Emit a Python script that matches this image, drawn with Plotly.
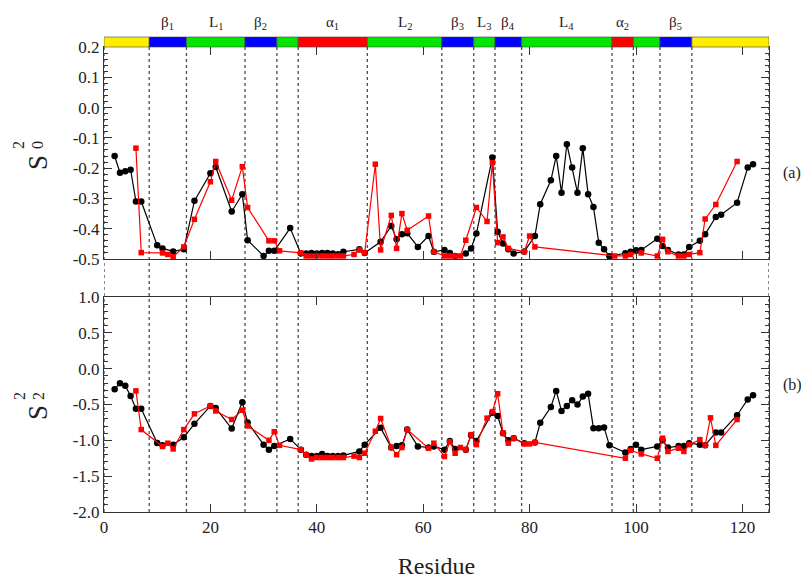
import plotly.graph_objects as go

# ---------------- data ----------------
blk_res = [2,3,4,5,6,7,10,11,13,15,17,20,21,24,26,27,30,31,32,35,37,38,39,40,41,42,43,44,45,48,49,
           52,54,55,56,57,59,61,62,64,65,66,68,69,70,73,74,75,76,77,79,81,82,84,85,86,87,88,89,90,91,
           92,93,94,95,98,99,100,101,104,105,106,108,109,110,112,113,115,116,119,121,122]
blk_s0 = [-0.16,-0.215,-0.21,-0.205,-0.31,-0.31,-0.455,-0.465,-0.475,-0.468,-0.308,-0.217,-0.196,-0.343,-0.286,-0.438,
          -0.49,-0.473,-0.473,-0.398,-0.482,-0.482,-0.48,-0.482,-0.48,-0.48,-0.482,-0.484,-0.476,-0.468,-0.48,
          -0.443,-0.391,-0.435,-0.418,-0.415,-0.46,-0.424,-0.476,-0.47,-0.48,-0.49,-0.482,-0.465,-0.416,-0.165,-0.41,
          -0.449,-0.468,-0.482,-0.475,-0.424,-0.319,-0.24,-0.16,-0.281,-0.121,-0.198,-0.281,-0.134,-0.286,
          -0.328,-0.446,-0.468,-0.491,-0.481,-0.476,-0.471,-0.47,-0.433,-0.457,-0.47,-0.485,-0.485,-0.46,-0.44,-0.418,
          -0.361,-0.354,-0.314,-0.198,-0.187]
blk_s2 = [-0.286,-0.202,-0.239,-0.38,-0.559,-0.559,-1.038,-1.07,-1.06,-0.958,-0.77,-0.52,-0.55,-0.835,-0.47,-0.75,
          -1.06,-1.13,-1.08,-0.98,-1.13,-1.2,-1.22,-1.22,-1.19,-1.22,-1.22,-1.22,-1.21,-1.155,-1.06,
          -0.826,-1.10,-1.08,-1.07,-0.85,-1.085,-1.10,-1.085,-1.13,-1.01,-1.12,-1.13,-0.93,-1.01,-0.615,-0.66,
          -0.9,-1.0,-0.97,-1.04,-1.03,-0.756,-0.535,-0.31,-0.59,-0.52,-0.44,-0.5,-0.39,-0.35,
          -0.83,-0.83,-0.82,-1.07,-1.17,-1.12,-1.06,-1.13,-1.085,-1.0,-1.1,-1.08,-1.08,-1.04,-1.06,-1.07,
          -0.89,-0.89,-0.65,-0.43,-0.37]

red_res_a = [6,7,11,12,13,15,17,20,21,24,26,27,31,32,33,37,38,39,40,41,42,43,44,45,47,48,49,51,52,54,55,56,57,
             61,62,64,65,66,67,68,70,72,73,74,75,76,79,80,81,96,98,99,101,104,105,106,108,109,110,112,113,115,119]
red_s0 = [-0.134,-0.479,-0.48,-0.485,-0.493,-0.46,-0.369,-0.245,-0.178,-0.306,-0.195,-0.33,-0.44,-0.44,-0.473,
          -0.48,-0.49,-0.49,-0.49,-0.49,-0.49,-0.49,-0.49,-0.49,-0.485,-0.47,-0.48,-0.187,-0.47,-0.356,-0.465,-0.35,-0.405,
          -0.358,-0.476,-0.49,-0.49,-0.49,-0.49,-0.438,-0.33,-0.376,-0.182,-0.446,-0.427,-0.465,-0.476,-0.424,-0.46,
          -0.49,-0.49,-0.485,-0.48,-0.49,-0.435,-0.476,-0.49,-0.49,-0.485,-0.479,-0.368,-0.32,-0.178]

red_res_b = [6,7,11,12,13,15,17,20,21,24,26,27,31,32,33,37,38,39,40,41,42,43,44,45,47,48,49,51,52,54,55,56,57,
             61,62,64,65,66,67,68,69,70,72,73,74,75,76,77,79,80,81,98,99,101,104,105,106,108,109,110,112,113,114,115,119]
red_s2 = [-0.31,-0.85,-1.085,-1.04,-1.12,-0.85,-0.63,-0.52,-0.59,-0.71,-0.58,-0.80,-1.0,-0.88,-1.07,
          -1.13,-1.2,-1.26,-1.24,-1.24,-1.24,-1.24,-1.24,-1.24,-1.22,-1.24,-1.18,-0.873,-0.695,-1.10,-1.2,-1.1,-0.85,
          -1.11,-1.04,-1.225,-1.02,-1.18,-1.1,-1.13,-0.92,-1.06,-0.69,-0.6,-0.35,-0.9,-1.04,-0.97,-1.05,-1.05,-1.03,
          -1.25,-1.14,-1.19,-1.25,-0.97,-1.155,-1.11,-1.155,-1.06,-0.99,-1.07,-0.686,-1.07,-0.71]

# secondary-structure segments
seg_bounds = [0, 8.5, 15.5, 26.5, 32.5, 36.5, 49.5, 63.5, 69.5, 73.5, 78.5, 95.5, 99.5, 104.5, 110.5, 125]
seg_colors = ["#ffee00", "#0000ff", "#00e600", "#0000ff", "#00e600", "#ff0000", "#00e600", "#0000ff",
              "#00e600", "#0000ff", "#00e600", "#ff0000", "#00e600", "#0000ff", "#ffee00"]
seg_labels = ["β<sub>1</sub>", "L<sub>1</sub>", "β<sub>2</sub>", "α<sub>1</sub>", "L<sub>2</sub>", "β<sub>3</sub>",
              "L<sub>3</sub>", "β<sub>4</sub>", "L<sub>4</sub>", "α<sub>2</sub>", "β<sub>5</sub>"]
seg_label_pos = [12, 21, 29.5, 43, 56.5, 66.5, 71.5, 76, 87, 97.5, 107.5]

y1_ticks = [-0.5, -0.4, -0.3, -0.2, -0.1, 0.0, 0.1, 0.2]
y1_text = ["-0.5", "-0.4", "-0.3", "-0.2", "-0.1", "0.0", "0.1", "0.2"]
y2_ticks = [-2.0, -1.5, -1.0, -0.5, 0.0, 0.5, 1.0]
y2_text = ["-2.0", "-1.5", "-1.0", "-0.5", "0.0", "0.5", "1.0"]
x_ticks = [0, 20, 40, 60, 80, 100, 120]

assert len(blk_res) == len(blk_s0) == len(blk_s2)
assert len(red_res_a) == len(red_s0)
assert len(red_res_b) == len(red_s2)

# ---------------- figure ----------------
SERIF = "Liberation Serif, Times New Roman, serif"
OFF = 7  # page body offset compensation
L, R, T, B = 103 - OFF, 809 - (768 - OFF), 46 - OFF, 580 - (511 - OFF)
PW, PH = 809 - L - R, 580 - T - B

def px_x(px):
    return (px - OFF - L) / PW

def px_y(py):
    return (580 - B - (py - OFF)) / PH

fig = go.Figure()

def add_series(x, y, ax, color, symbol, size):
    fig.add_trace(go.Scatter(x=x, y=y, mode="lines+markers", xaxis=ax[0], yaxis=ax[1],
                             line=dict(color=color, width=1.2),
                             marker=dict(symbol=symbol, size=size, color=color),
                             showlegend=False, hoverinfo="x+y"))

add_series(blk_res, blk_s0, ("x", "y"), "black", "circle", 6.5)
add_series(red_res_a, red_s0, ("x", "y"), "#ff0000", "square", 5.5)
add_series(blk_res, blk_s2, ("x2", "y2"), "black", "circle", 6.5)
add_series(red_res_b, red_s2, ("x2", "y2"), "#ff0000", "square", 5.5)

shapes = []
for b in seg_bounds:
    shapes.append(dict(type="line", xref="x", yref="paper", x0=b, x1=b, y0=0, y1=1,
                       line=dict(color="#4d4d4d", width=1.3, dash="dot"), layer="below"))
bar_h = 10 / PH
for i, c in enumerate(seg_colors):
    shapes.append(dict(type="rect", xref="x", yref="paper", x0=seg_bounds[i], x1=seg_bounds[i + 1],
                       y0=1.0, y1=1.0 + bar_h, fillcolor=c, line=dict(color="#444444", width=0.6),
                       layer="above"))

def ann(x, y, text, size, xref="paper", angle=0):
    return dict(x=x, y=y, xref=xref, yref="paper", text=text, showarrow=False, textangle=angle,
                xanchor="center", yanchor="middle", font=dict(family=SERIF, size=size, color="#222"))

annotations = []
for lab, p in zip(seg_labels, seg_label_pos):
    annotations.append(ann(p, px_y(22), lab, 15, xref="x"))
annotations.append(ann(px_x(791), px_y(172), "(a)", 16))
annotations.append(ann(px_x(791), px_y(384), "(b)", 16))
for (ys, yn, sub) in [(162, 144, "0"), (412, 395, "2")]:
    annotations.append(ann(px_x(37), px_y(ys), "S", 27, angle=-90))
    annotations.append(ann(px_x(18), px_y(yn), "2", 16, angle=-90))
    annotations.append(ann(px_x(37), px_y(yn), sub, 16, angle=-90))

axis_common = dict(showline=True, linecolor="#333", linewidth=1, mirror="allticks", ticks="inside",
                   showgrid=False, zeroline=False, tickcolor="#333",
                   tickfont=dict(family=SERIF, size=17, color="#222"))

fig.update_layout(
    width=809, height=580,
    font=dict(family=SERIF, color="#222"),
    margin=dict(l=L, r=R, t=T, b=B, autoexpand=False),
    paper_bgcolor="white", plot_bgcolor="white",
    xaxis=dict(domain=[0, 1], range=[0, 125], anchor="y", tickvals=x_ticks, showticklabels=False,
               ticklen=8, **axis_common),
    yaxis=dict(domain=[px_y(258), 1], range=[-0.5, 0.2], anchor="x", tickvals=y1_ticks, ticktext=y1_text,
               ticklen=8, minor=dict(dtick=0.02, ticklen=4, ticks="inside", tickcolor="#333"), **axis_common),
    xaxis2=dict(domain=[0, 1], range=[0, 125], anchor="y2", tickvals=x_ticks,
                ticktext=[str(v) for v in x_ticks], ticklen=8,
                title=dict(text="Residue", font=dict(family=SERIF, size=24, color="#222"), standoff=20),
                **axis_common),
    yaxis2=dict(domain=[0, px_y(296)], range=[-2.0, 1.0], anchor="x2", tickvals=y2_ticks,
                ticktext=y2_text, ticklen=8,
                minor=dict(dtick=0.1, ticklen=4, ticks="inside", tickcolor="#333"), **axis_common),
    shapes=shapes,
    annotations=annotations,
)

fig.write_html("out.html")
